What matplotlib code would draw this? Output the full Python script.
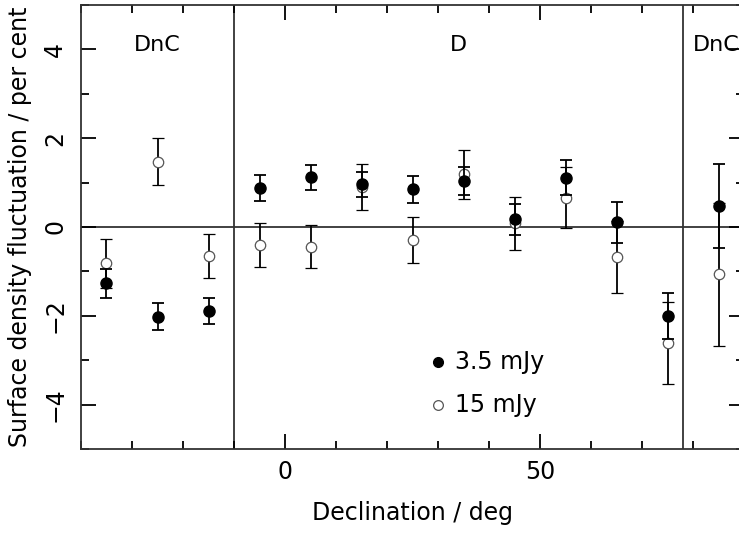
import numpy as np
import matplotlib
matplotlib.use("Agg")
import matplotlib.pyplot as plt
from matplotlib.ticker import MultipleLocator

plt.rcParams["font.family"] = ["DejaVu Sans"]

# declination bins (deg)
dec = [-35, -25, -15, -5, 5, 15, 25, 35, 45, 55, 65, 75, 85]
# 3.5 mJy sample
s35 = [-1.27, -2.02, -1.89, 0.87, 1.12, 0.96, 0.85, 1.03, 0.17, 1.11, 0.11, -2.00, 0.47]
e35 = [0.32, 0.30, 0.29, 0.29, 0.28, 0.28, 0.30, 0.32, 0.35, 0.40, 0.46, 0.52, 0.95]
# 15 mJy sample
s15 = [-0.82, 1.47, -0.65, -0.40, -0.44, 0.90, -0.29, 1.19, 0.08, 0.66, -0.68, -2.61, -1.06]
e15 = [0.55, 0.53, 0.50, 0.49, 0.49, 0.51, 0.52, 0.55, 0.60, 0.69, 0.81, 0.92, 1.61]

# survey configuration boundaries and labels
bounds = [-10, 78]
regions = [("DnC", -25, "center"), ("D", 34, "center"), ("DnC", 80, "left")]

W, H = 739, 534
fig = plt.figure(figsize=(W / 100, H / 100), dpi=100)
ax = fig.add_axes([81 / W, (H - 449) / H, (744 - 81) / W, (449 - 5) / H])

ax.axhline(0, color="#333333", lw=1.3, zorder=1)
for b in bounds:
    ax.axvline(b, color="#333333", lw=1.3, zorder=1)

ax.errorbar(dec, s15, yerr=e15, fmt="o", ms=7.5, mfc="white", mec="#555555", mew=0.9,
            ecolor="black", elinewidth=1.3, capsize=4.5, capthick=1.3, zorder=2)
ax.errorbar(dec, s35, yerr=e35, fmt="o", ms=8, mfc="black", mec="black",
            ecolor="black", elinewidth=1.3, capsize=4.5, capthick=1.3, zorder=3)

for name, x, ha in regions:
    ax.text(x, 4.1, name, ha=ha, va="center", fontsize=16)

# legend drawn as plain symbols + text
ax.plot([30], [-3.03], "o", ms=7, mfc="black", mec="black")
ax.text(33.3, -3.03, "3.5 mJy", va="center", fontsize=17)
ax.plot([30], [-4.0], "o", ms=7, mfc="white", mec="#555555", mew=0.9)
ax.text(33.3, -4.0, "15 mJy", va="center", fontsize=17)

ax.set_xlim(-40, 90)
ax.set_ylim(-5, 5)
ax.xaxis.set_major_locator(MultipleLocator(50))
ax.xaxis.set_minor_locator(MultipleLocator(10))
ax.yaxis.set_major_locator(MultipleLocator(2))
ax.yaxis.set_minor_locator(MultipleLocator(1))
ax.tick_params(which="both", direction="in", top=True, right=True, width=1.3, labelsize=17)
ax.tick_params(which="major", length=11)
ax.tick_params(which="minor", length=6)
ax.tick_params(axis="x", pad=8)
ax.tick_params(axis="y", pad=10)
for lab in ax.get_yticklabels():
    lab.set_rotation(90)
    lab.set_va("center")
for sp in ax.spines.values():
    sp.set_linewidth(1.3)
    sp.set_color("#333333")

ax.set_xlabel("Declination / deg", fontsize=17, labelpad=12)
ax.set_ylabel("Surface density fluctuation / per cent", fontsize=17, labelpad=8)

fig.savefig("out.png", dpi=100)
